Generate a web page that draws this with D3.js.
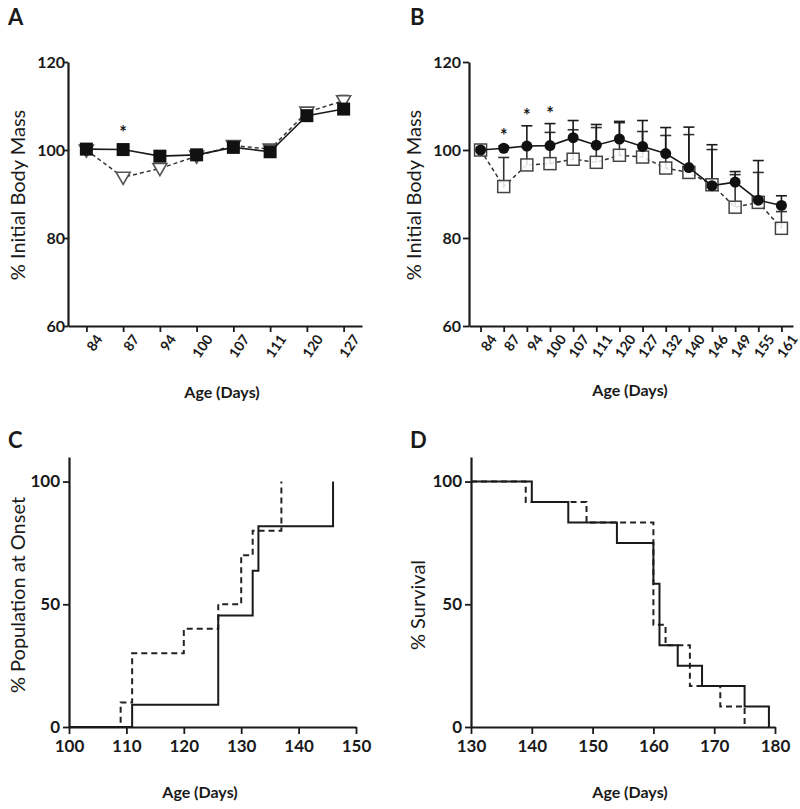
<!DOCTYPE html>
<html><head><meta charset="utf-8">
<script src="https://cdn.jsdelivr.net/npm/d3@7"></script>
<style>
body{margin:0;background:#fff;}
text{font-family:Lato,"Open Sans",sans-serif;fill:#1a1a1a;}
</style></head>
<body><svg id="c" width="800" height="809"></svg>
<script>
// ---- Data ----
const daysA = ["84","87","94","100","107","111","120","127"];
const aSolid = [100.2,100.1,98.6,98.9,100.6,99.6,107.8,109.3];
const aDashed = [100.0,93.8,95.8,98.6,101.0,100.2,108.6,111.2];
const aDashedErr = [0,0.5,0.5,0.5,0.8,0.5,1,1.2];
const aStars = ["87"];
const yTicksAB = [60,80,100,120];

const daysB = ["84","87","94","100","107","111","120","127","132","140","146","149","155","161"];
const bSolid = [100.0,100.4,100.9,101.0,102.8,101.1,102.5,100.8,99.2,96.0,91.9,92.7,88.6,87.4];
const bSolidErr = [0,0.5,4.6,5.0,3.9,4.7,4.0,5.9,5.9,9.2,9.3,2.4,9.0,2.2];
const bDashed = [100.0,91.7,96.6,96.9,97.9,97.2,98.8,98.4,95.9,94.9,92.1,87.0,88.1,82.2];
const bDashedErr = [0,6.6,4.0,7.1,6.7,7.9,7.4,5.8,7.4,8.6,8.0,7.4,6.8,3.8];
const bStars = ["87","94","100"];

const cSolidT = [100,111,126,132,133,146];
const cSolidV = [0,9.09,45.45,63.64,81.82,100];
const cDashedT = [108,109,111,120,126,130,132,137];
const cDashedV = [0,10,30,40,50,70,80,100];
const cXTicks = [100,110,120,130,140,150];
const cYTicks = [0,50,100];

const dSolidT = [130,140,146,154,160,161,164,168,175,179];
const dSolidV = [100,91.67,83.33,75,58.33,33.33,25,16.67,8.33,0];
const dDashedT = [130,139,149,160,162,166,171,175];
const dDashedV = [100,91.67,83.33,41.67,33.33,16.67,8.33,0];
const dXTicks = [130,140,150,160,170,180];
const dYTicks = [0,50,100];

const svg = d3.select("#c");
const INK = "#1a1a1a";

function styleAxis(g){
  g.selectAll("path.domain").attr("stroke",INK).attr("stroke-width",2.2);
  g.selectAll(".tick line").attr("stroke",INK).attr("stroke-width",1.8);
  g.selectAll(".tick text").attr("font-size",16).attr("font-weight",700).attr("fill",INK);
}
function letter(x,y,t){
  svg.append("text").attr("x",x).attr("y",y).attr("font-size",22).attr("font-weight",700).text(t);
}
function ylabel(x,y,t){
  svg.append("text").attr("transform",`translate(${x},${y}) rotate(-90)`).attr("text-anchor","middle")
    .attr("font-size",20).attr("font-weight",400).text(t);
}
function xlabel(x,y,t){
  svg.append("text").attr("x",x).attr("y",y).attr("text-anchor","middle")
    .attr("font-size",16).attr("font-weight",700).text(t);
}
function star(x,y){
  svg.append("text").attr("x",x).attr("y",y).attr("text-anchor","middle")
    .attr("font-family","DejaVu Sans").attr("font-size",18).attr("font-weight",700)
    .attr("fill","#222").text("*");
}

// ---------- Panel A ----------
(function(){
  const x = d3.scalePoint().domain(daysA).range([68,362]).padding(0.5);
  const y = d3.scaleLinear().domain([60,120]).range([326,62]);
  const gx = svg.append("g").attr("transform","translate(0,326)")
    .call(d3.axisBottom(x).tickSize(6).tickSizeOuter(0));
  styleAxis(gx);
  gx.selectAll(".tick text").attr("font-size",14).attr("text-anchor","end")
    .attr("transform","translate(5,5) rotate(-55)").attr("dy","0.35em").attr("dx","0");
  const gy = svg.append("g").attr("transform","translate(68,0)")
    .call(d3.axisLeft(y).tickValues(yTicksAB).tickSize(5).tickSizeOuter(0));
  styleAxis(gy);
  gy.selectAll(".tick text").attr("x",-3);

  const line = d3.line().x((d,i)=>x(daysA[i])).y(d=>y(d));
  svg.append("path").datum(aDashed).attr("d",line).attr("fill","none").attr("stroke","#333")
    .attr("stroke-width",1.5).attr("stroke-dasharray","4,3");
  aDashed.forEach((v,i)=>{
    if(!aDashedErr[i]) return;
    const cx=x(daysA[i]);
    svg.append("line").attr("x1",cx).attr("x2",cx).attr("y1",y(v)).attr("y2",y(v+aDashedErr[i])).attr("stroke","#333").attr("stroke-width",1.5);
    svg.append("line").attr("x1",cx-5).attr("x2",cx+5).attr("y1",y(v+aDashedErr[i])).attr("y2",y(v+aDashedErr[i])).attr("stroke","#333").attr("stroke-width",1.5);
  });
  const tri = d3.symbol().type(d3.symbolTriangle).size(85);
  svg.selectAll(null).data(aDashed).enter().append("path")
    .attr("d",tri).attr("transform",(d,i)=>`translate(${x(daysA[i])},${y(d)-1}) rotate(180)`)
    .attr("fill","#fff").attr("stroke","#555").attr("stroke-width",1.6);
  svg.append("path").datum(aSolid).attr("d",line).attr("fill","none").attr("stroke",INK).attr("stroke-width",1.6);
  svg.selectAll(null).data(aSolid).enter().append("rect")
    .attr("x",(d,i)=>x(daysA[i])-6.5).attr("y",d=>y(d)-6.5).attr("width",13).attr("height",13)
    .attr("fill","#111");
  aStars.forEach(s=>star(x(s), y(104.3)+8));
  letter(8,25,"A");
  ylabel(25,195,"% Initial Body Mass");
  xlabel(222,398,"Age (Days)");
})();

// ---------- Panel B ----------
(function(){
  const x = d3.scalePoint().domain(daysB).range([469,793]).padding(0.5);
  const y = d3.scaleLinear().domain([60,120]).range([326,62]);
  const gx = svg.append("g").attr("transform","translate(0,326)")
    .call(d3.axisBottom(x).tickSize(6).tickSizeOuter(0));
  styleAxis(gx);
  gx.selectAll(".tick text").attr("font-size",14).attr("text-anchor","end")
    .attr("transform","translate(5,5) rotate(-55)").attr("dy","0.35em").attr("dx","0");
  const gy = svg.append("g").attr("transform","translate(469,0)")
    .call(d3.axisLeft(y).tickValues(yTicksAB).tickSize(6).tickSizeOuter(0));
  styleAxis(gy);
  gy.selectAll(".tick text").attr("x",-8);

  function errs(vals,err,col){
    vals.forEach((v,i)=>{
      if(!err[i]) return;
      const cx=x(daysB[i]);
      svg.append("line").attr("x1",cx).attr("x2",cx).attr("y1",y(v)).attr("y2",y(v+err[i])).attr("stroke",col).attr("stroke-width",1.6);
      svg.append("line").attr("x1",cx-5.5).attr("x2",cx+5.5).attr("y1",y(v+err[i])).attr("y2",y(v+err[i])).attr("stroke",col).attr("stroke-width",1.6);
    });
  }
  errs(bDashed,bDashedErr,"#333");
  errs(bSolid,bSolidErr,INK);
  const line = d3.line().x((d,i)=>x(daysB[i])).y(d=>y(d));
  svg.append("path").datum(bDashed).attr("d",line).attr("fill","none").attr("stroke","#333")
    .attr("stroke-width",1.5).attr("stroke-dasharray","4,3");
  svg.selectAll(null).data(bDashed).enter().append("rect")
    .attr("x",(d,i)=>x(daysB[i])-6).attr("y",d=>y(d)-6).attr("width",12).attr("height",12)
    .attr("fill","#fff").attr("fill-opacity",0.85).attr("stroke","#444").attr("stroke-width",1.5);
  svg.append("path").datum(bSolid).attr("d",line).attr("fill","none").attr("stroke",INK).attr("stroke-width",1.6);
  svg.selectAll(null).data(bSolid).enter().append("circle")
    .attr("cx",(d,i)=>x(daysB[i])).attr("cy",d=>y(d)).attr("r",5.5).attr("fill","#111");
  bStars.forEach(s=>{
    const i = daysB.indexOf(s);
    const top = Math.max(bSolid[i]+bSolidErr[i], bDashed[i]+bDashedErr[i]);
    star(x(s), y(top)-4);
  });
  letter(410,25,"B");
  ylabel(421,195,"% Initial Body Mass");
  xlabel(630,396,"Age (Days)");
})();

function stepPath(T,V,x,y){
  const pts = T.map((t,i)=>[t,V[i]]);
  return d3.line().x(d=>x(d[0])).y(d=>y(d[1])).curve(d3.curveStepAfter)(pts);
}

// ---------- Panel C ----------
(function(){
  const x = d3.scaleLinear().domain([100,150]).range([69,356]);
  const y = d3.scaleLinear().domain([0,110]).range([727,457]);
  svg.append("path").attr("d",stepPath(cDashedT,cDashedV,x,y)).attr("fill","none")
    .attr("stroke","#222").attr("stroke-width",2).attr("stroke-dasharray","6,4");
  svg.append("path").attr("d",stepPath(cSolidT,cSolidV,x,y)).attr("fill","none")
    .attr("stroke",INK).attr("stroke-width",2);
  const gx = svg.append("g").attr("transform","translate(0,727)")
    .call(d3.axisBottom(x).tickValues(cXTicks).tickSize(7).tickSizeOuter(0).tickPadding(6));
  styleAxis(gx);
  gx.selectAll(".tick text").attr("font-size",17);
  const gy = svg.append("g").attr("transform","translate(69,0)")
    .call(d3.axisLeft(y).tickValues(cYTicks).tickSize(6).tickSizeOuter(0));
  styleAxis(gy);
  gy.selectAll(".tick text").attr("x",-9).attr("font-size",17);
  letter(8,448,"C");
  ylabel(25,595,"% Population at Onset");
  xlabel(200,798,"Age (Days)");
})();

// ---------- Panel D ----------
(function(){
  const x = d3.scaleLinear().domain([130,180]).range([471,775]);
  const y = d3.scaleLinear().domain([0,110]).range([727,457]);
  svg.append("path").attr("d",stepPath(dDashedT,dDashedV,x,y)).attr("fill","none")
    .attr("stroke","#222").attr("stroke-width",2).attr("stroke-dasharray","6,4");
  svg.append("path").attr("d",stepPath(dSolidT,dSolidV,x,y)).attr("fill","none")
    .attr("stroke",INK).attr("stroke-width",2);
  const gx = svg.append("g").attr("transform","translate(0,727)")
    .call(d3.axisBottom(x).tickValues(dXTicks).tickSize(7).tickSizeOuter(0).tickPadding(6));
  styleAxis(gx);
  gx.selectAll(".tick text").attr("font-size",17);
  const gy = svg.append("g").attr("transform","translate(471,0)")
    .call(d3.axisLeft(y).tickValues(dYTicks).tickSize(6).tickSizeOuter(0));
  styleAxis(gy);
  gy.selectAll(".tick text").attr("x",-9).attr("font-size",17);
  letter(410,448,"D");
  ylabel(425,605,"% Survival");
  xlabel(630,798,"Age (Days)");
})();
</script></body></html>
